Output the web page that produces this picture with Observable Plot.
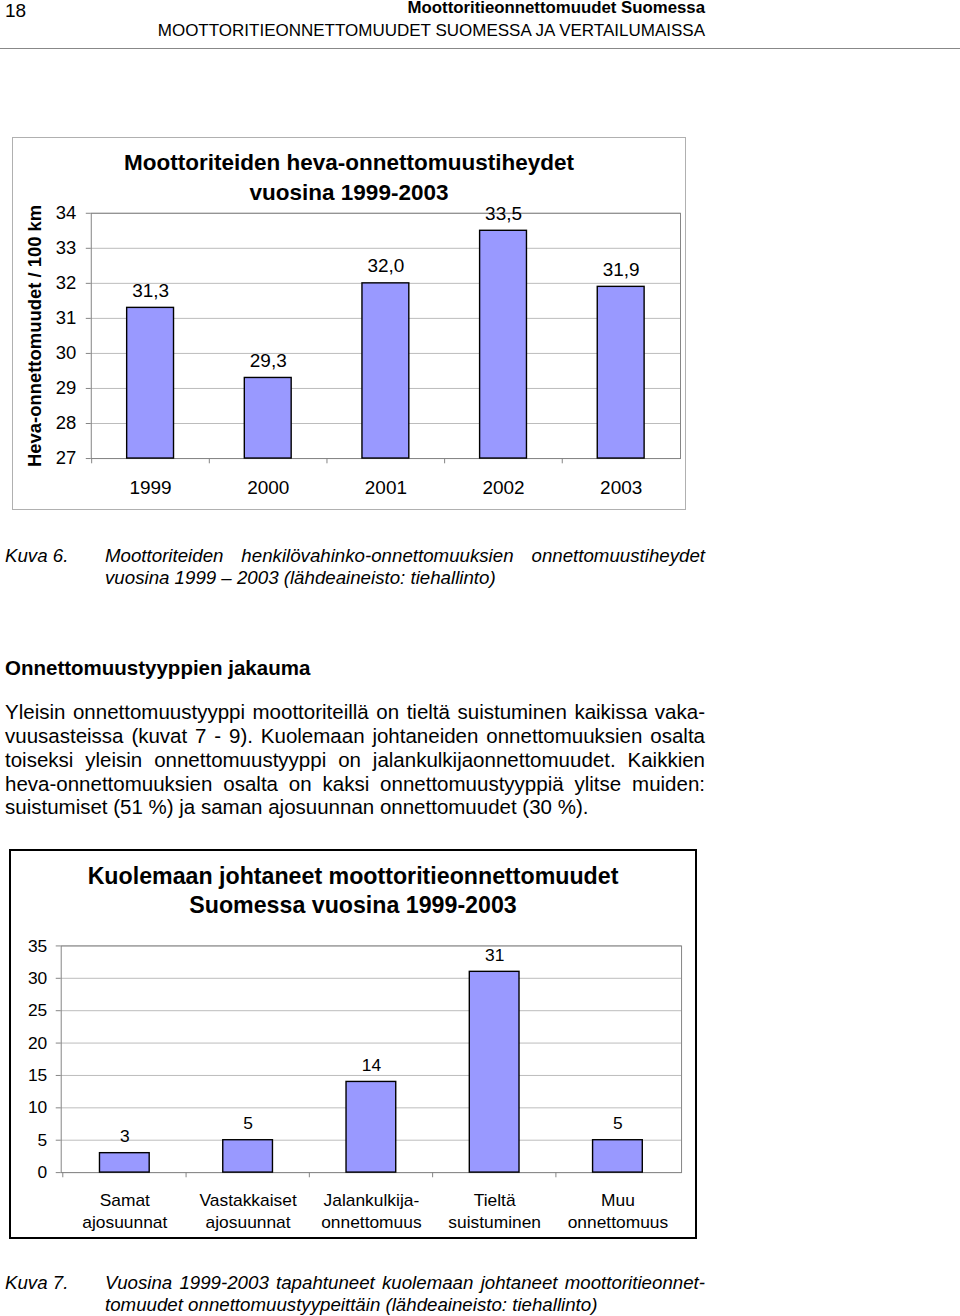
<!DOCTYPE html>
<html><head><meta charset="utf-8">
<script src="https://cdn.jsdelivr.net/npm/d3@7"></script>
<script src="https://cdn.jsdelivr.net/npm/@observablehq/plot@0.6"></script>
<style>
body{margin:0;width:960px;height:1316px;position:relative;background:#fff;font-family:"Liberation Sans",Arial,sans-serif;color:#000;overflow:hidden}
.a{position:absolute;white-space:nowrap;line-height:1}
.frame{position:absolute;box-sizing:border-box}
.frame svg{position:absolute;overflow:visible}
#f1 svg{left:-1px;top:-1px}
#f2 svg{left:-2px;top:-2px}
.ttl{position:absolute;left:-20px;right:-20px;text-align:center;font-weight:bold;white-space:nowrap;line-height:1}
.body{font-size:20.5px}
.cap{font-size:18.7px;font-style:italic}
g[aria-label="y-axis label"] text{font-weight:bold}
</style></head><body>
<div class="a" style="left:5px;top:1px;font-size:19px">18</div>
<div class="a" style="right:255px;top:0px;font-size:16.8px;font-weight:bold">Moottoritieonnettomuudet Suomessa</div>
<div class="a" style="right:255px;top:22px;font-size:17px">MOOTTORITIEONNETTOMUUDET SUOMESSA JA VERTAILUMAISSA</div>
<div class="a" style="left:0;top:48px;width:960px;height:0;border-top:1px solid #888"></div>

<div class="frame" id="f1" style="left:12px;top:137px;width:674px;height:373px;border:1px solid #b0b0b0">
  <div class="ttl" style="top:13.5px;font-size:22.5px">Moottoriteiden heva-onnettomuustiheydet</div>
  <div class="ttl" style="top:43.5px;font-size:22.5px">vuosina 1999-2003</div>
</div>

<div class="a cap" style="left:5px;top:547px">Kuva 6.</div>
<div class="a cap fit" data-w="600" style="left:105px;top:547px">Moottoriteiden henkilövahinko-onnettomuuksien onnettomuustiheydet</div>
<div class="a cap" style="left:105px;top:569px">vuosina 1999 – 2003 (lähdeaineisto: tiehallinto)</div>

<div class="a" style="left:5px;top:658px;font-size:20.5px;font-weight:bold">Onnettomuustyyppien jakauma</div>

<div class="a body fit" data-w="700" style="left:5px;top:702px">Yleisin onnettomuustyyppi moottoriteillä on tieltä suistuminen kaikissa vaka-</div>
<div class="a body fit" data-w="700" style="left:5px;top:726px">vuusasteissa (kuvat 7 - 9). Kuolemaan johtaneiden onnettomuuksien osalta</div>
<div class="a body fit" data-w="700" style="left:5px;top:750px">toiseksi yleisin onnettomuustyyppi on jalankulkijaonnettomuudet. Kaikkien</div>
<div class="a body fit" data-w="700" style="left:5px;top:774px">heva-onnettomuuksien osalta on kaksi onnettomuustyyppiä ylitse muiden:</div>
<div class="a body" style="left:5px;top:797px">suistumiset (51 %) ja saman ajosuunnan onnettomuudet (30 %).</div>

<div class="frame" id="f2" style="left:9px;top:849px;width:688px;height:390px;border:2px solid #000">
  <div class="ttl" style="top:13.5px;font-size:23.2px">Kuolemaan johtaneet moottoritieonnettomuudet</div>
  <div class="ttl" style="top:42.5px;font-size:23.2px">Suomessa vuosina 1999-2003</div>
</div>

<div class="a cap" style="left:5px;top:1274px">Kuva 7.</div>
<div class="a cap fit" data-w="600" style="left:105px;top:1274px">Vuosina 1999-2003 tapahtuneet kuolemaan johtaneet moottoritieonnet-</div>
<div class="a cap" style="left:105px;top:1296px">tomuudet onnettomuustyypeittäin (lähdeaineisto: tiehallinto)</div>

<script>
// Chart 1 data
const years = ["1999", "2000", "2001", "2002", "2003"];
const density = [31.3, 29.3, 32.0, 33.5, 31.9];
const densityTicks = [27, 28, 29, 30, 31, 32, 33, 34];
// Chart 2 data
const types = ["Samat\najosuunnat", "Vastakkaiset\najosuunnat", "Jalankulkija-\nonnettomuus", "Tieltä\nsuistuminen", "Muu\nonnettomuus"];
const deaths = [3, 5, 14, 31, 5];
const deathTicks = [0, 5, 10, 15, 20, 25, 30, 35];

// justify single text lines by word spacing
document.querySelectorAll(".fit").forEach(el => {
  const target = +el.dataset.w;
  const w = el.getBoundingClientRect().width;
  const n = (el.textContent.match(/ /g) || []).length;
  if (n) el.style.wordSpacing = ((target - w) / n) + "px";
});

const FONT = '"Liberation Sans", Arial, sans-serif';
const BAR = "#9999ff";
const GRID = "#bcbcbc";
const AXIS = "#858585";

const d1 = years.map((y, i) => ({year: y, value: density[i]}));
const base1 = densityTicks[0];
const w1 = 674, ml1 = 79, mr1 = 4;
const step1 = (w1 - ml1 - mr1) / years.length;
const c1 = Plot.plot({
  width: w1, height: 373,
  marginLeft: ml1, marginRight: mr1, marginTop: 76, marginBottom: 51,
  style: {fontFamily: FONT, fontSize: "18.5px", background: "transparent", overflow: "visible", color: "#000"},
  x: {domain: years, paddingInner: 0.6, paddingOuter: 0.3},
  y: {domain: [densityTicks[0], densityTicks[densityTicks.length - 1]]},
  marks: [
    Plot.gridY(densityTicks, {stroke: GRID, strokeOpacity: 1}),
    Plot.frame({stroke: AXIS}),
    Plot.ruleX(d1, {x: "year", dx: -step1 / 2, y1: base1, y2: base1 - 0.15, stroke: AXIS}),
    Plot.barY(d1, {x: "year", y1: base1, y2: "value", fill: BAR, stroke: "#000", strokeWidth: 1.4}),
    Plot.text(d1, {x: "year", y: "value", text: d => d.value.toFixed(1).replace(".", ","), dy: -17, fontSize: 19}),
    Plot.axisY(densityTicks, {tickSize: 5, tickPadding: 10, stroke: AXIS, fill: "#000", fontSize: 18.5, label: "Heva-onnettomuudet / 100 km", labelAnchor: "center", labelArrow: false, labelOffset: 64}),
    Plot.axisX({tickSize: 0, tickPadding: 22, fontSize: 19, label: null})
  ]
});
document.getElementById("f1").appendChild(c1);

const d2 = types.map((t, i) => ({type: t, value: deaths[i]}));
const w2 = 688, ml2 = 52, mr2 = 12;
const step2 = (w2 - ml2 - mr2) / types.length;
const c2 = Plot.plot({
  width: w2, height: 390,
  marginLeft: ml2, marginRight: mr2, marginTop: 97, marginBottom: 65,
  style: {fontFamily: FONT, fontSize: "17.5px", background: "transparent", overflow: "visible", color: "#000"},
  x: {domain: types, paddingInner: 0.6, paddingOuter: 0.3},
  y: {domain: [deathTicks[0], deathTicks[deathTicks.length - 1]]},
  marks: [
    Plot.gridY(deathTicks, {stroke: GRID, strokeOpacity: 1}),
    Plot.frame({stroke: AXIS}),
    Plot.ruleX(d2, {x: "type", dx: -step2 / 2, y1: 0, y2: -0.8, stroke: AXIS}),
    Plot.barY(d2, {x: "type", y: "value", fill: BAR, stroke: "#000", strokeWidth: 1.4}),
    Plot.text(d2, {x: "type", y: "value", text: d => String(d.value), dy: -17, fontSize: 17.5}),
    Plot.axisY(deathTicks, {tickSize: 5, tickPadding: 9, stroke: AXIS, fill: "#000", fontSize: 17.5, label: null}),
    Plot.axisX({tickSize: 0, tickPadding: 18, fontSize: 17.5, lineHeight: 1.27, label: null})
  ]
});
document.getElementById("f2").appendChild(c2);
</script>
</body></html>
